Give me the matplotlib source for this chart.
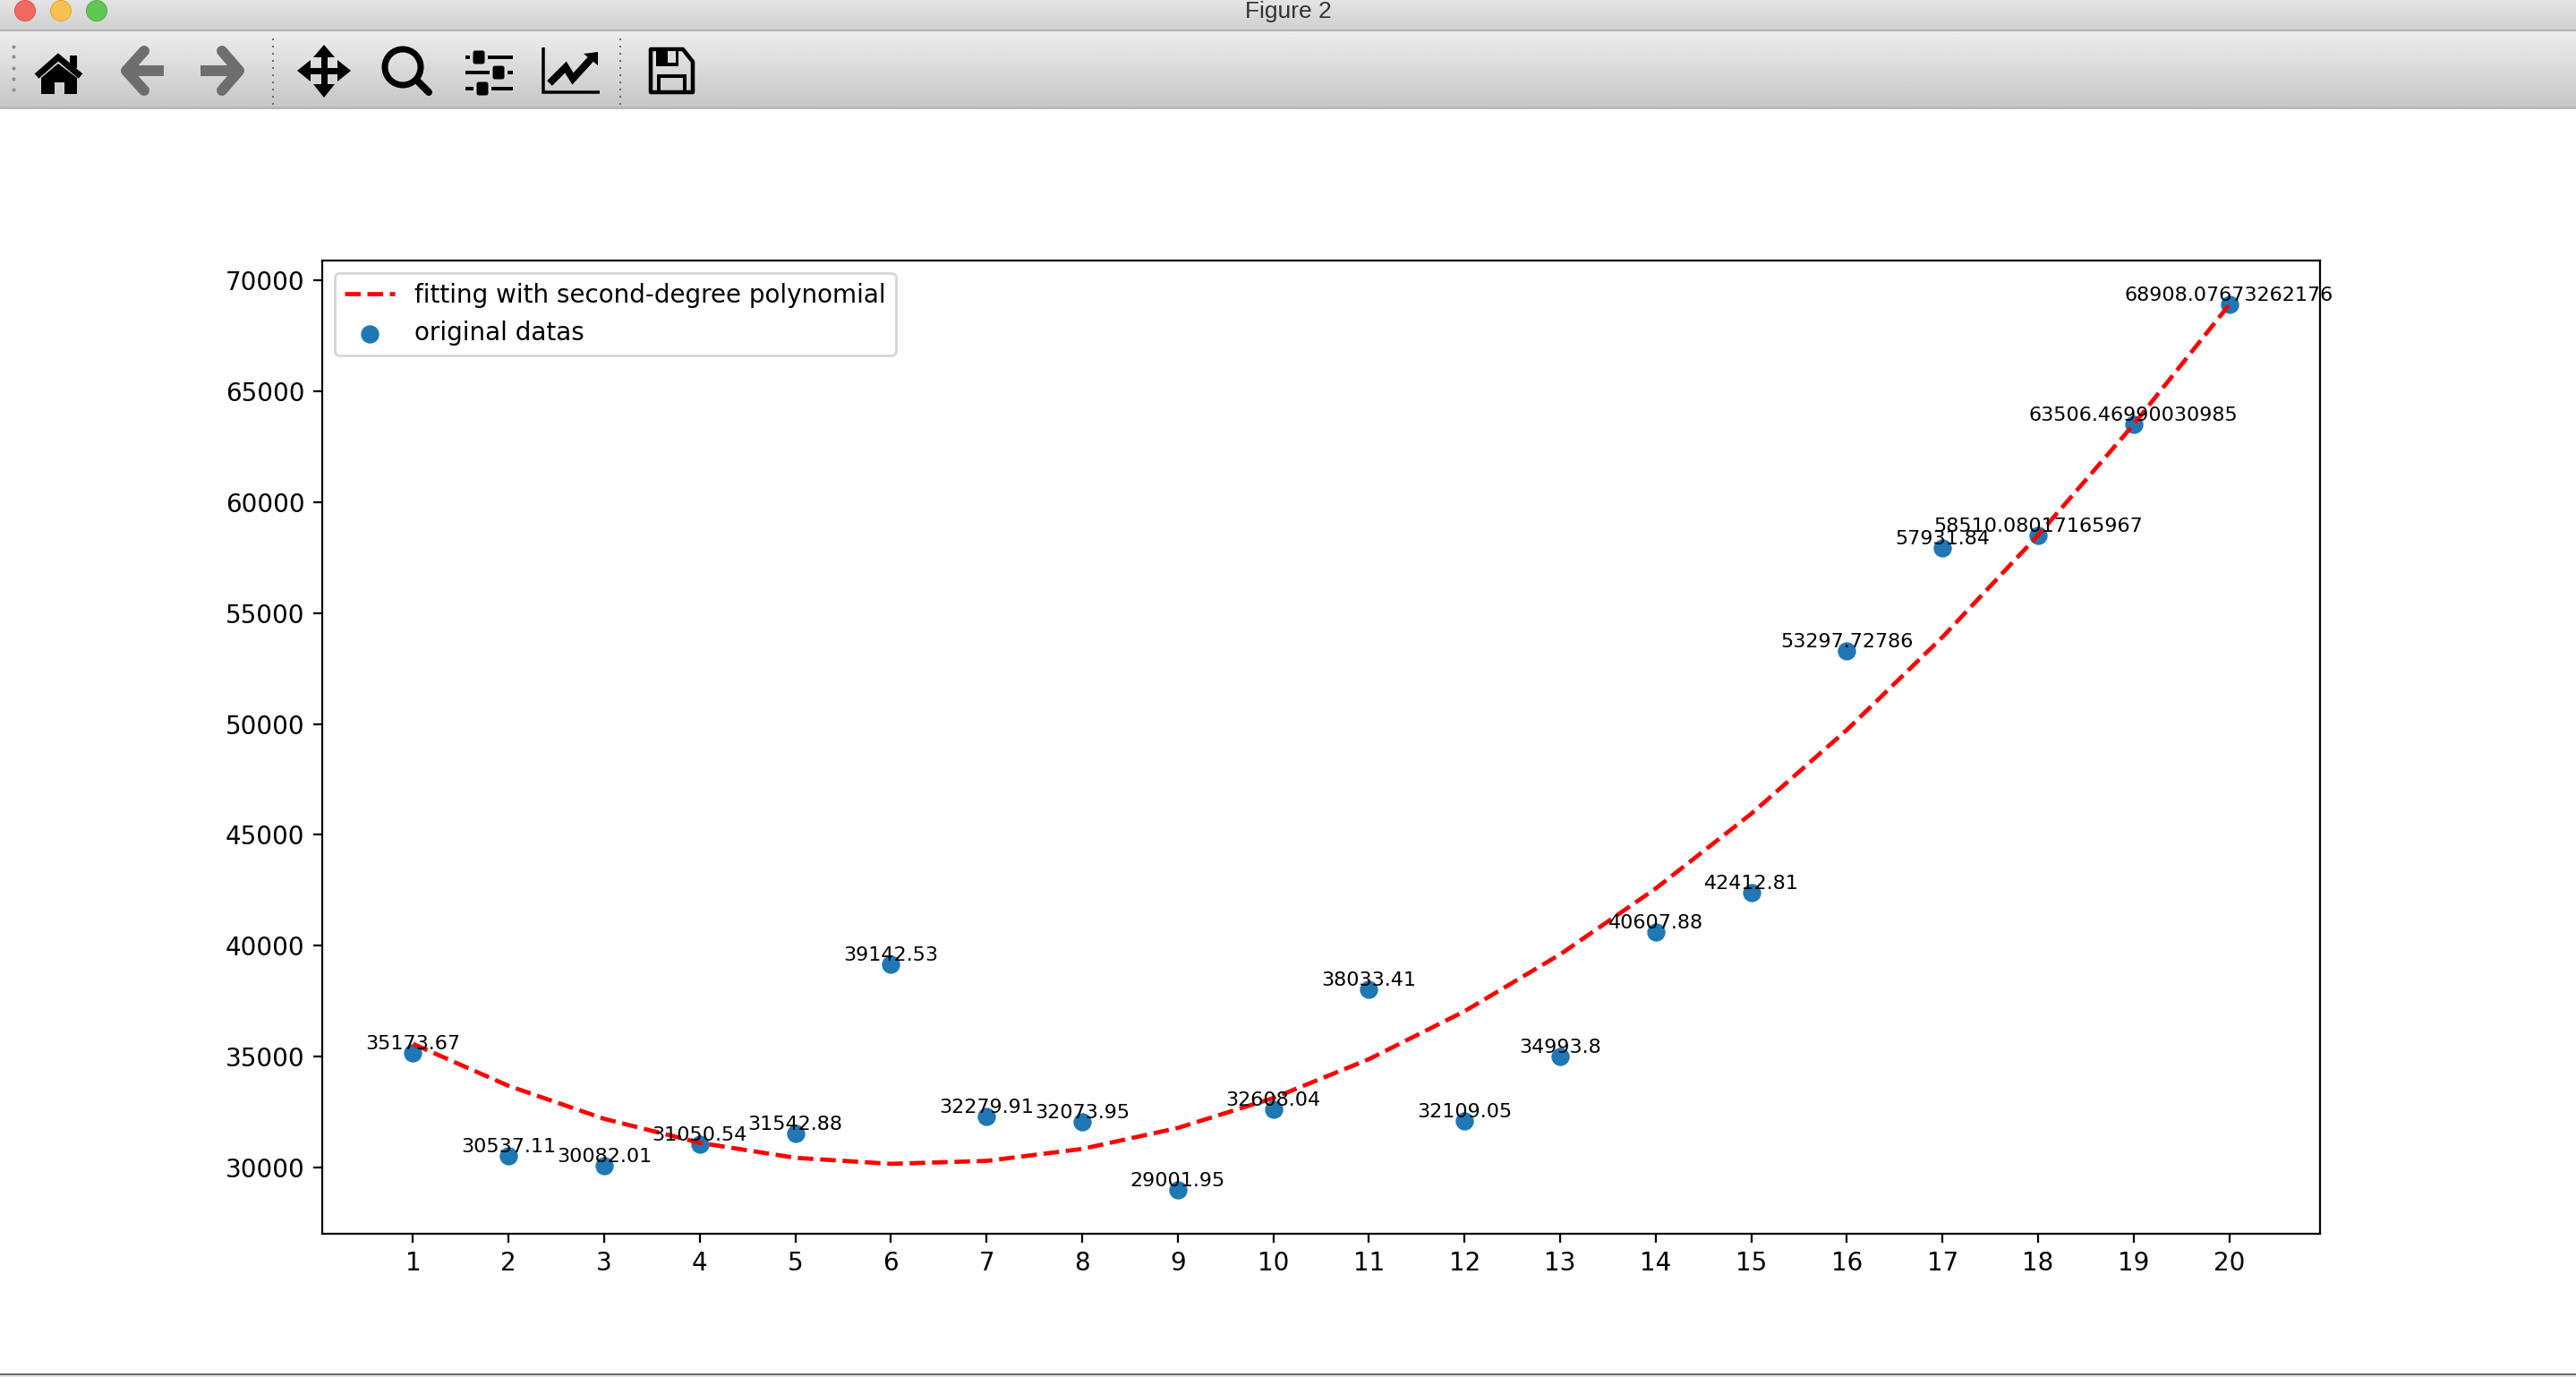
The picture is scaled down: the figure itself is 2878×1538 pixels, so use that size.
"""Scatter with quadratic fit, drawn inside a mock of the macOS figure window."""
import matplotlib

matplotlib.use("Agg")

import matplotlib.pyplot as plt
import numpy as np
from matplotlib.patches import Circle, FancyBboxPatch, Polygon, Rectangle

W, H = 2878, 1538
DPI = 200
PX = 72.0 / DPI  # one pixel in points

months = list(range(1, 21))
original = [
    35173.67, 30537.11, 30082.01, 31050.54, 31542.88, 39142.53, 32279.91,
    32073.95, 29001.95, 32608.04, 38033.41, 32109.05, 34993.8, 40607.88,
    42412.81, 53297.72786, 57931.84, 58510.08017165967, 63506.46990030985,
    68908.07673262176,
]
fitted = [
    35570, 33677, 32190, 31108, 30432, 30160, 30294, 30833, 31777, 33127,
    34881, 37041, 39606, 42577, 45952, 49733, 53919, 58510.08, 63506.47,
    68908.08,
]
yticks = [30000, 35000, 40000, 45000, 50000, 55000, 60000, 65000, 70000]
window_title = "Figure 2"
fit_label = "fitting with second-degree polynomial"
data_label = "original datas"


def _gradient(ax, top, bottom, y0, y1):
    """Vertical grey gradient across the whole window width."""
    grad = np.linspace(top, bottom, 64).reshape(-1, 1)
    ax.imshow(grad, cmap="gray", vmin=0, vmax=1, aspect="auto",
              extent=(0, W, y1, y0), interpolation="bilinear", zorder=1)


def _stroke(ax, pts, color="black", lw=5.0, cap="butt", join="miter"):
    xs, ys = zip(*pts)
    ax.plot(xs, ys, color=color, lw=lw * PX, solid_capstyle=cap,
            solid_joinstyle=join, zorder=3)


def _fill(ax, pts, color="black"):
    ax.add_patch(Polygon(pts, closed=True, facecolor=color, edgecolor="none", zorder=3))


def _box(ax, x0, y0, x1, y1, color="black"):
    ax.add_patch(Rectangle((x0, y0), x1 - x0, y1 - y0, facecolor=color,
                           edgecolor="none", zorder=4))


def _knob(ax, cx, cy):
    ax.add_patch(FancyBboxPatch((cx - 4, cy - 5), 8, 10, boxstyle="round,pad=2.5",
                                facecolor="black", edgecolor="none", zorder=4))


def _draw_titlebar(ax):
    _gradient(ax, 0.895, 0.815, 0, 33)
    ax.axhline(33.5, color="#b4b4b4", lw=2 * PX, zorder=2)
    for cx, face, edge in [(28, "#f4695f", "#e0554b"), (68, "#f8c04e", "#e3a93c"),
                           (108, "#5fc854", "#4fb045")]:
        ax.add_patch(Circle((cx, 12), 11.5, facecolor=face, edgecolor=edge,
                            lw=1 * PX, zorder=3))
    ax.text(1439, 13, window_title, ha="center", va="center", fontsize=9.5,
            family="Liberation Sans", color="#333333", zorder=3)


def _draw_separators(ax):
    ax.plot([15] * 5, [52, 63, 76, 88, 100], ls="none", marker="o", ms=4 * PX,
            color="#8c8c8c", mew=0, zorder=3)
    for x in (305, 693):
        ys = list(range(44, 119, 8))
        ax.plot([x] * len(ys), ys, ls="none", marker="s", ms=2.5 * PX,
                color="#6a6a6a", mew=0, zorder=3)


def _draw_home(ax):
    _stroke(ax, [(41, 85), (65, 64), (90, 85)], lw=7)
    _box(ax, 78, 62, 86, 76)
    _fill(ax, [(46, 87), (65, 71), (86, 87), (86, 105), (72, 105), (72, 92),
               (61, 92), (61, 105), (46, 105)])


def _draw_arrows(ax):
    grey = "#6e6e6e"
    _stroke(ax, [(161, 57), (141, 79), (161, 101)], color=grey, lw=12, cap="round", join="round")
    _stroke(ax, [(141, 79), (183, 79)], color=grey, lw=12)
    _stroke(ax, [(248, 57), (267, 79), (248, 101)], color=grey, lw=12, cap="round", join="round")
    _stroke(ax, [(224, 79), (267, 79)], color=grey, lw=12)


def _draw_move(ax):
    cx, cy = 362, 79
    _stroke(ax, [(cx - 22, cy), (cx + 22, cy)], lw=7)
    _stroke(ax, [(cx, cy - 22), (cx, cy + 22)], lw=7)
    _fill(ax, [(cx, 50), (cx + 12, 64), (cx - 12, 64)])
    _fill(ax, [(cx, 109), (cx + 12, 94), (cx - 12, 94)])
    _fill(ax, [(332, cy), (347, cy - 12), (347, cy + 12)])
    _fill(ax, [(392, cy), (377, cy - 12), (377, cy + 12)])


def _draw_zoom(ax):
    ax.add_patch(Circle((450, 75), 20, facecolor="none", edgecolor="black",
                        lw=7 * PX, zorder=3))
    _stroke(ax, [(466, 90), (479, 103)], lw=8, cap="round")


def _draw_sliders(ax):
    for y, knob in [(64, 535), (81, 557), (99, 539)]:
        _stroke(ax, [(520, y), (573, y)], lw=4)
        _box(ax, knob - 10, y - 3, knob + 10, y + 3, color="#d8d8d8")
        _knob(ax, knob, y)


def _draw_chart_icon(ax):
    _stroke(ax, [(607, 53), (607, 103), (670, 103)], lw=3.5)
    _stroke(ax, [(614, 93), (632, 75), (640, 88), (660, 66)], lw=8)
    _fill(ax, [(668, 58), (668, 73), (652, 60)])


def _draw_save(ax):
    outline = [(727, 55), (763, 55), (774, 69), (774, 103), (727, 103)]
    ax.add_patch(Polygon(outline, closed=True, facecolor="none", edgecolor="black",
                         lw=4.5 * PX, joinstyle="round", zorder=3))
    _box(ax, 733, 57, 758, 74)
    _box(ax, 746, 57, 755, 70, color="#dcdcdc")
    ax.add_patch(Rectangle((736, 85), 29, 18, facecolor="none", edgecolor="black",
                           lw=4 * PX, zorder=3))


def _draw_window(ax):
    ax.set_xlim(0, W)
    ax.set_ylim(H, 0)
    ax.axis("off")
    _draw_titlebar(ax)
    _gradient(ax, 0.93, 0.78, 34, 119)
    ax.axhline(120, color="#b8b8b8", lw=3 * PX, zorder=2)
    _draw_separators(ax)
    _draw_home(ax)
    _draw_arrows(ax)
    _draw_move(ax)
    _draw_zoom(ax)
    _draw_sliders(ax)
    _draw_chart_icon(ax)
    _draw_save(ax)
    # window bottom edge
    ax.add_patch(Rectangle((0, 1534), W, 4, facecolor="#e2e2e2", edgecolor="none", zorder=1))
    ax.axhline(1534.5, color="#6a6a6a", lw=2 * PX, zorder=2)
    ax.set_xlim(0, W)
    ax.set_ylim(H, 0)


fig = plt.figure(figsize=(W / DPI, H / DPI), dpi=DPI, facecolor="white")

ax_window = fig.add_axes([0, 0, 1, 1])
_draw_window(ax_window)

left, right, top, bottom = 360, 2592, 291, 1378
ax = fig.add_axes([left / W, 1 - bottom / H, (right - left) / W, (bottom - top) / H])

ax.plot(months, fitted, "r--", lw=1.7, label=fit_label)
ax.scatter(months, original, s=40, label=data_label)
for x, y in zip(months, original):
    ax.text(x, y, str(y), ha="center", va="bottom", fontsize=8)

ax.set_xticks(months)
ax.set_yticks(yticks)
ax.legend(loc="upper left")

fig.savefig("out.png", dpi=DPI)
plt.close(fig)
